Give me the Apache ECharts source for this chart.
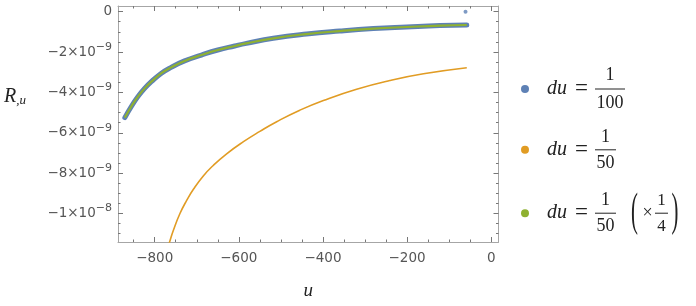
<!DOCTYPE html>
<html>
<head>
<meta charset="utf-8">
<script src="https://cdn.jsdelivr.net/npm/echarts@6/dist/echarts.min.js"></script>
<style>html,body{margin:0;padding:0;background:#fff}#c{width:696px;height:306px}</style>
</head>
<body>
<div id="c"></div>
<script>
// ---- data ----
const blueU = [-871, -856, -840, -824, -808, -784, -761, -729, -689, -650, -610, -582, -518, -439, -360, -280, -201, -122, -58];
const blueR = [-5.25e-9, -4.71e-9, -4.21e-9, -3.80e-9, -3.47e-9, -3.05e-9, -2.76e-9, -2.44e-9, -2.15e-9, -1.90e-9, -1.70e-9, -1.57e-9, -1.32e-9, -1.11e-9, -0.96e-9, -0.84e-9, -0.76e-9, -0.69e-9, -0.66e-9];
const blueStrayU = [-61];
const blueStrayR = [0];
const orangeU = [-769, -765, -756, -740, -724, -708, -685, -661, -629, -589, -550, -510, -455, -399, -320, -241, -161, -58];
const orangeR = [-11.65e-9, -11.43e-9, -10.85e-9, -10.00e-9, -9.35e-9, -8.80e-9, -8.15e-9, -7.62e-9, -7.04e-9, -6.44e-9, -5.93e-9, -5.45e-9, -4.88e-9, -4.40e-9, -3.84e-9, -3.41e-9, -3.08e-9, -2.78e-9];
const greenU = [-871, -856, -840, -824, -808, -784, -761, -729, -689, -650, -610, -582, -518, -439, -360, -280, -201, -122, -58];
const greenR = [-5.25e-9, -4.71e-9, -4.21e-9, -3.80e-9, -3.47e-9, -3.05e-9, -2.76e-9, -2.44e-9, -2.15e-9, -1.90e-9, -1.70e-9, -1.57e-9, -1.32e-9, -1.11e-9, -0.96e-9, -0.84e-9, -0.76e-9, -0.69e-9, -0.66e-9];

const seriesNames = ['du = 1/100', 'du = 1/50', 'du = 1/50 (×1/4)'];

const xTicks = [-800, -600, -400, -200, 0];
const xTickLabels = ['−800', '−600', '−400', '−200', '0'];
const xMinorTicks = [-850, -750, -700, -650, -550, -500, -450, -350, -300, -250, -150, -100, -50];
const yTicks = [0, -2e-9, -4e-9, -6e-9, -8e-9, -1e-8];
const yTickMantissa = ['0', '−2×10', '−4×10', '−6×10', '−8×10', '−1×10'];
const yTickExponent = ['', '−9', '−9', '−9', '−9', '−8'];
const yMinorTicks = [-0.5e-9, -1e-9, -1.5e-9, -2.5e-9, -3e-9, -3.5e-9, -4.5e-9, -5e-9, -5.5e-9, -6.5e-9, -7e-9, -7.5e-9, -8.5e-9, -9e-9, -9.5e-9, -1.05e-8, -1.1e-8];

const X_MIN = -887.3, X_MAX = 17.4;
const Y_MIN = -11.41e-9, Y_MAX = 0.28e-9;

// ---- styling ----
const BLUE = '#5E81B5', ORANGE = '#E19C24', GREEN = '#8FB131';
const FRAME = '#a6a6a6', TICK = '#777', LABEL = '#555';
const SANS = 'DejaVu Sans';
const SERIF = 'Liberation Serif';
const MATH = '#222';

const pairs = (u, r) => u.map((v, i) => [v, r[i]]);

function xAxisDef(pos, ticks, len, showLine, showLabel) {
  return {
    type: 'value', position: pos, min: X_MIN, max: X_MAX,
    axisLine: { show: showLine, onZero: false, lineStyle: { color: FRAME, width: 1 } },
    axisTick: { show: true, inside: true, length: len, customValues: ticks, lineStyle: { color: TICK, width: 1 } },
    axisLabel: showLabel ? {
      show: true, customValues: ticks, margin: 9, color: LABEL, fontFamily: SANS, fontSize: 13.5,
      formatter: v => { const i = xTicks.findIndex(t => Math.abs(t - v) < 1e-6); return i >= 0 ? xTickLabels[i] : ''; }
    } : { show: false },
    splitLine: { show: false }
  };
}
function yAxisDef(pos, ticks, len, showLine, showLabel) {
  return {
    type: 'value', position: pos, min: Y_MIN, max: Y_MAX,
    axisLine: { show: showLine, onZero: false, lineStyle: { color: FRAME, width: 1 } },
    axisTick: { show: true, inside: true, length: len, customValues: ticks, lineStyle: { color: TICK, width: 1 } },
    axisLabel: showLabel ? {
      show: true, customValues: ticks, margin: 6, color: LABEL, fontFamily: SANS, fontSize: 13.5,
      formatter: v => {
        const i = yTicks.findIndex(t => Math.abs(t - v) < 1e-13);
        if (i < 0) return '';
        return yTickExponent[i] ? '{m|' + yTickMantissa[i] + '}{e|' + yTickExponent[i] + '}' : '{m|' + yTickMantissa[i] + '}';
      },
      rich: {
        m: { fontFamily: SANS, fontSize: 13.5, color: LABEL },
        e: { fontFamily: SANS, fontSize: 11, color: LABEL, padding: [0, 0, 10, 0] }
      }
    } : { show: false },
    splitLine: { show: false }
  };
}

const mathRich = (lh, barW) => ({
  sp0: { width: 13, lineHeight: lh },
  sp1: { width: 61, lineHeight: lh },
  du: { width: 21, fontFamily: SERIF, fontStyle: 'italic', fontSize: 20, color: MATH, lineHeight: lh },
  eq: { width: 27, align: 'center', fontFamily: SERIF, fontSize: 23, color: MATH, lineHeight: lh },
  bar: { width: barW, height: 1, backgroundColor: MATH, lineHeight: lh },
  n: { width: barW, align: 'center', fontFamily: SERIF, fontSize: 18, color: MATH, lineHeight: lh },
  gp: { width: 25, lineHeight: lh },
  tm: { width: 13, align: 'center', fontFamily: SERIF, fontSize: 18, color: MATH, lineHeight: lh },
  g1: { width: 1, lineHeight: lh },
  barIn: { width: 13, height: 1, backgroundColor: MATH, lineHeight: lh },
  gpn: { width: 39, lineHeight: lh },
  nIn: { width: 13, align: 'center', fontFamily: SERIF, fontSize: 17, color: MATH, lineHeight: lh }
});
const legendText = {
  'du = 1/100': '{sp1|}{n|1}\n{sp0|}{du|du}{eq|=}{bar|}\n{sp1|}{n|100}',
  'du = 1/50': '{sp1|}{n|1}\n{sp0|}{du|du}{eq|=}{bar|}\n{sp1|}{n|50}',
  'du = 1/50 (×1/4)': '{sp1|}{n|1}{gpn|}{nIn|1}\n{sp0|}{du|du}{eq|=}{bar|}{gp|}{tm|×}{g1|}{barIn|}\n{sp1|}{n|50}{gpn|}{nIn|4}'
};
function legendDef(name, top, lh, barW) {
  return {
    data: [name], orient: 'vertical', left: 521, top: top, padding: 0,
    icon: 'circle', itemWidth: 8, itemHeight: 8, selectedMode: false,
    formatter: n => legendText[n],
    textStyle: { rich: mathRich(lh, barW), color: MATH }
  };
}

const chart = echarts.init(document.getElementById('c'), null, { renderer: 'canvas' });
chart.setOption({
  animation: false,
  backgroundColor: '#fff',
  grid: { left: 118, right: 197.5, top: 6, bottom: 64 },
  xAxis: [
    Object.assign(xAxisDef('bottom', xTicks, 5, true, true), {
      name: 'u', nameLocation: 'middle', nameGap: 39,
      nameTextStyle: { fontFamily: SERIF, fontStyle: 'italic', fontSize: 19, color: MATH }
    }),
    xAxisDef('bottom', xMinorTicks, 2.5, false, false),
    xAxisDef('top', xTicks, 5, true, false),
    xAxisDef('top', xMinorTicks, 2.5, false, false)
  ],
  yAxis: [
    yAxisDef('left', yTicks, 5, true, true),
    yAxisDef('left', yMinorTicks, 2.5, false, false),
    yAxisDef('right', yTicks, 5, true, false),
    yAxisDef('right', yMinorTicks, 2.5, false, false)
  ],
  legend: [
    legendDef(seriesNames[0], 66, 14, 30),
    legendDef(seriesNames[1], 127.8, 13, 21),
    legendDef(seriesNames[2], 191.2, 13, 21)
  ],
  graphic: [
    { type: 'text', x: 4, y: 97, style: {
        text: '{R|R}{s|,u}', align: 'left', verticalAlign: 'middle',
        rich: { R: { fontFamily: SERIF, fontStyle: 'italic', fontSize: 20, fill: MATH, color: MATH },
                s: { fontFamily: SERIF, fontStyle: 'italic', fontSize: 13, fill: MATH, color: MATH, padding: [7, 0, 0, 0] } } } },
    { type: 'text', x: 634.5, y: 212.5, scaleX: 0.45, style: { text: '(', fontFamily: SERIF, fontSize: 46, fill: MATH, align: 'center', verticalAlign: 'middle' } },
    { type: 'text', x: 675, y: 212.5, scaleX: 0.45, style: { text: ')', fontFamily: SERIF, fontSize: 46, fill: MATH, align: 'center', verticalAlign: 'middle' } }
  ],
  series: [
    { name: seriesNames[0], type: 'line', data: pairs(blueU, blueR), smooth: true, showSymbol: false,
      color: BLUE, lineStyle: { color: BLUE, width: 5, cap: 'round' }, z: 2 },
    { name: seriesNames[0], type: 'scatter', data: pairs(blueStrayU, blueStrayR), symbolSize: 4,
      itemStyle: { color: BLUE }, color: BLUE, z: 2 },
    { name: seriesNames[1], type: 'line', data: pairs(orangeU, orangeR), smooth: true, showSymbol: false,
      color: ORANGE, lineStyle: { color: ORANGE, width: 1.6 }, z: 3 },
    { name: seriesNames[2], type: 'line', data: pairs(greenU, greenR), smooth: true, showSymbol: false,
      color: GREEN, lineStyle: { color: GREEN, width: 2.2 }, z: 4 }
  ]
});
</script>
</body>
</html>
